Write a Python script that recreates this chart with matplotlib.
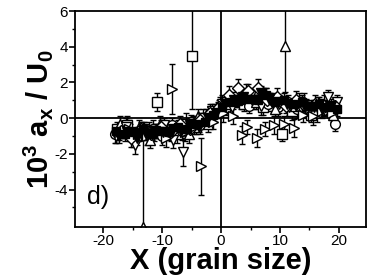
import matplotlib
matplotlib.use("Agg")
import matplotlib.pyplot as plt

plt.rcParams["font.family"] = ["Liberation Sans", "DejaVu Sans"]
plt.rcParams["mathtext.fontset"] = "custom"
plt.rcParams["mathtext.rm"] = "Liberation Sans:bold"
plt.rcParams["mathtext.it"] = "Liberation Sans:bold"
plt.rcParams["mathtext.bf"] = "Liberation Sans:bold"
plt.rcParams["axes.unicode_minus"] = False

# open squares
xA = [-17.6, -16.0, -14.4, -12.3, -10.8, -9.1, -7.5, -5.9, -4.3, -2.6, -1.0, 0.6,
      2.3, 3.9, 5.5, 7.2, 8.8, 10.4, 12.1, 13.7, 15.3, 17.0, 18.6, -4.9]
yA = [-0.6, -0.4, -1.0, -0.7, 0.9, -0.6, -0.9, -0.3, -0.5, 0.0, 0.3, 0.6,
      1.2, 0.8, 1.0, 0.6, 0.9, -0.9, 0.4, 0.8, 0.2, 0.6, 0.5, 3.5]
eA = [0.4, 0.5, 0.4, 0.5, 0.5, 0.4, 0.5, 0.6, 0.4, 0.5, 0.5, 0.4,
      0.5, 0.4, 0.5, 0.4, 0.5, 0.4, 0.5, 0.4, 0.4, 0.5, 0.4, 3.0]
# open circles
xB = [-18.0, -16.5, -14.9, -13.2, -11.6, -10.0, -8.4, -6.7, -5.1, -3.5, -1.8, -0.2,
      1.5, 3.1, 4.7, 6.4, 8.0, 9.6, 11.3, 12.9, 14.5, 16.2, 17.8, 19.4]
yB = [-0.9, -0.7, -1.1, -0.8, -0.6, -1.0, -0.4, -0.7, -0.2, -0.4, 0.2, 0.7,
      0.9, 1.1, 0.7, 1.0, 0.8, 0.6, 0.9, 0.5, 0.7, 0.3, 0.6, -0.3]
eB = [0.5, 0.4, 0.5, 0.4, 0.5, 0.5, 0.4, 0.5, 0.4, 0.5, 0.4, 0.5,
      0.4, 0.5, 0.4, 0.5, 0.4, 0.5, 0.4, 0.5, 0.4, 0.5, 0.4, 0.4]
# open triangles up
xC = [-17.2, -15.5, -13.9, -12.0, -10.4, -8.8, -7.1, -5.5, -3.9, -2.2, -0.6, 1.0,
      2.7, 4.3, 5.9, 7.6, 9.2, 10.8, 12.5, 14.1, 15.7, 17.4, 19.0, -13.3]
yC = [-0.3, -0.8, -0.5, -1.2, -0.3, -0.7, -0.5, -0.9, 0.1, -0.3, 0.5, 0.8,
      1.0, 1.4, 0.9, 1.2, 0.5, 4.05, 0.7, 0.9, 0.4, 0.8, 0.2, -6.1]
eC = [0.4, 0.5, 0.4, 0.5, 0.4, 0.5, 0.4, 0.5, 0.4, 0.5, 0.4, 0.5,
      0.4, 0.5, 0.4, 0.5, 0.4, 2.6, 0.4, 0.5, 0.4, 0.5, 0.4, 5.3]
# open triangles down
xD = [-17.9, -16.2, -14.6, -13.0, -11.4, -9.7, -8.1, -6.4, -4.8, -3.1, -1.5, 0.1,
      1.8, 3.4, 5.0, 6.7, 8.3, 9.9, 11.6, 13.2, 14.8, 16.5, 18.1, 19.6]
yD = [-1.0, -0.5, -1.5, -0.6, -0.8, -0.4, -1.2, -1.9, -0.3, 0.0, 0.4, 0.8,
      0.6, 1.0, 1.3, 0.7, 1.0, 0.8, 0.6, 0.9, 0.4, 0.7, 1.2, 0.9]
eD = [0.4, 0.5, 0.5, 0.4, 0.5, 0.4, 0.5, 0.8, 0.4, 0.5, 0.4, 0.5,
      0.4, 0.5, 0.4, 0.5, 0.4, 0.5, 0.4, 0.5, 0.4, 0.5, 0.4, 0.4]
# open diamonds
xE = [-17.0, -15.3, -13.6, -11.9, -10.2, -8.5, -6.9, -5.2, -3.6, -1.9, -0.3, 1.3,
      2.9, 4.6, 6.2, 7.8, 9.5, 11.1, 12.8, 14.4, 16.0, 17.7, 19.3]
yE = [-0.7, -1.1, -0.6, -0.9, -0.5, -0.8, -0.3, -0.6, -0.1, 0.3, 0.6, 1.3,
      1.7, 1.5, 1.7, 1.0, 1.2, 0.7, 1.0, 0.6, 0.8, 0.5, 0.7]
eE = [0.4, 0.5, 0.4, 0.5, 0.4, 0.5, 0.4, 0.5, 0.4, 0.5, 0.4, 0.5,
      0.5, 0.4, 0.5, 0.4, 0.5, 0.4, 0.5, 0.4, 0.5, 0.4, 0.4]
# open right triangles
xF = [-17.4, -15.7, -14.1, -12.6, -11.0, -9.4, -8.3, -6.2, -4.6, -3.4, -1.3, 0.3,
      2.0, 3.6, 4.4, 6.1, 7.4, 9.0, 10.6, 12.3, 13.9, 15.6, 17.2, 18.8]
yF = [-0.8, -0.6, -0.9, -1.0, -0.7, -1.1, 1.65, -0.8, -0.5, -2.7, -0.2, 0.3,
      0.1, -0.95, -0.5, -1.1, -0.6, -0.4, -0.3, -0.55, 0.2, 0.1, 0.4, 0.3]
eF = [0.4, 0.5, 0.4, 0.5, 0.4, 0.5, 1.4, 0.5, 0.4, 1.6, 0.4, 0.5,
      0.4, 0.5, 0.4, 0.5, 0.4, 0.5, 0.4, 0.5, 0.4, 0.5, 0.4, 0.4]
# filled squares
xG = [-17.8, -16.3, -14.8, -13.3, -11.8, -10.3, -8.8, -7.3, -5.8, -4.3, -2.8, -1.3, 0.2,
      1.7, 3.2, 4.7, 6.2, 7.7, 9.2, 10.7, 12.2, 13.7, 15.2, 16.7, 18.2, 19.7]
yG = [-0.7, -0.9, -0.8, -0.6, -0.9, -0.7, -0.8, -0.5, -0.6, -0.3, -0.2, 0.2, 0.6,
      0.9, 1.0, 1.1, 1.0, 1.3, 0.9, 1.0, 0.8, 0.9, 0.7, 0.8, 0.6, 0.5]
eG = [0.3, 0.4, 0.3, 0.4, 0.3, 0.4, 0.3, 0.4, 0.3, 0.4, 0.3, 0.4, 0.3,
      0.4, 0.3, 0.4, 0.3, 0.4, 0.3, 0.4, 0.3, 0.4, 0.3, 0.4, 0.3, 0.4]
# filled triangles down
xH = [-17.3, -15.9, -14.3, -12.8, -11.3, -9.8, -8.2, -6.8, -5.3, -3.8, -2.3, -0.8, 0.7,
      2.2, 3.7, 5.2, 6.7, 8.2, 9.7, 11.2, 12.7, 14.2, 15.7, 17.2, 18.7]
yH = [-1.0, -0.8, -1.1, -0.9, -0.7, -0.8, -0.6, -0.7, -0.4, -0.5, 0.0, 0.3, 0.8,
      1.0, 1.2, 1.0, 1.4, 1.1, 0.9, 0.8, 0.7, 0.6, 0.6, 0.5, 0.7]
eH = [0.4, 0.3, 0.4, 0.3, 0.4, 0.3, 0.4, 0.3, 0.4, 0.3, 0.4, 0.3, 0.4,
      0.3, 0.4, 0.3, 0.4, 0.3, 0.4, 0.3, 0.4, 0.3, 0.4, 0.3, 0.4]

series = [
    (xA, yA, eA, "s", "white", 6.5),
    (xB, yB, eB, "o", "white", 7),
    (xC, yC, eC, "^", "white", 7.5),
    (xD, yD, eD, "v", "white", 7.5),
    (xE, yE, eE, "D", "white", 6.5),
    (xF, yF, eF, ">", "white", 7.5),
    (xG, yG, eG, "s", "black", 6),
    (xH, yH, eH, "v", "black", 7),
]

fig = plt.figure(figsize=(3.74, 2.78), dpi=100)
ax = fig.add_axes([0.2005, 0.1835, 0.7781, 0.7765])

ax.axhline(0, color="black", lw=1.3, zorder=1)
ax.axvline(0, color="black", lw=1.3, zorder=1)

for x, y, e, m, fc, ms in series:
    ax.errorbar(x, y, yerr=e, fmt=m, ms=ms, mfc=fc, mec="black", mew=1.0,
                ecolor="black", elinewidth=1.0, capsize=2.5, capthick=1.0,
                zorder=2)

ax.set_xlim(-24.8, 24.6)
ax.set_ylim(-6.1, 6)
ax.set_xticks([-20, -10, 0, 10, 20])
ax.set_xticks([-15, -5, 5, 15], minor=True)
ax.set_yticks([-4, -2, 0, 2, 4, 6])
ax.set_yticks([-5, -3, -1, 1, 3, 5], minor=True)
ax.tick_params(which="major", direction="out", length=4, width=1.2, labelsize=11, pad=1)
ax.tick_params(which="minor", direction="out", length=2.5, width=1.0)
for s in ax.spines.values():
    s.set_linewidth(1.3)

ax.set_xlabel("X (grain size)", fontsize=21, fontweight="bold", labelpad=-1)
ax.set_ylabel(r"10$^{3}$ a$_{x}$ / U$_{0}$", fontsize=21, fontweight="bold", labelpad=0)
ax.text(0.041, 0.106, "d)", transform=ax.transAxes, fontsize=18)

fig.savefig("out.png", dpi=100)
